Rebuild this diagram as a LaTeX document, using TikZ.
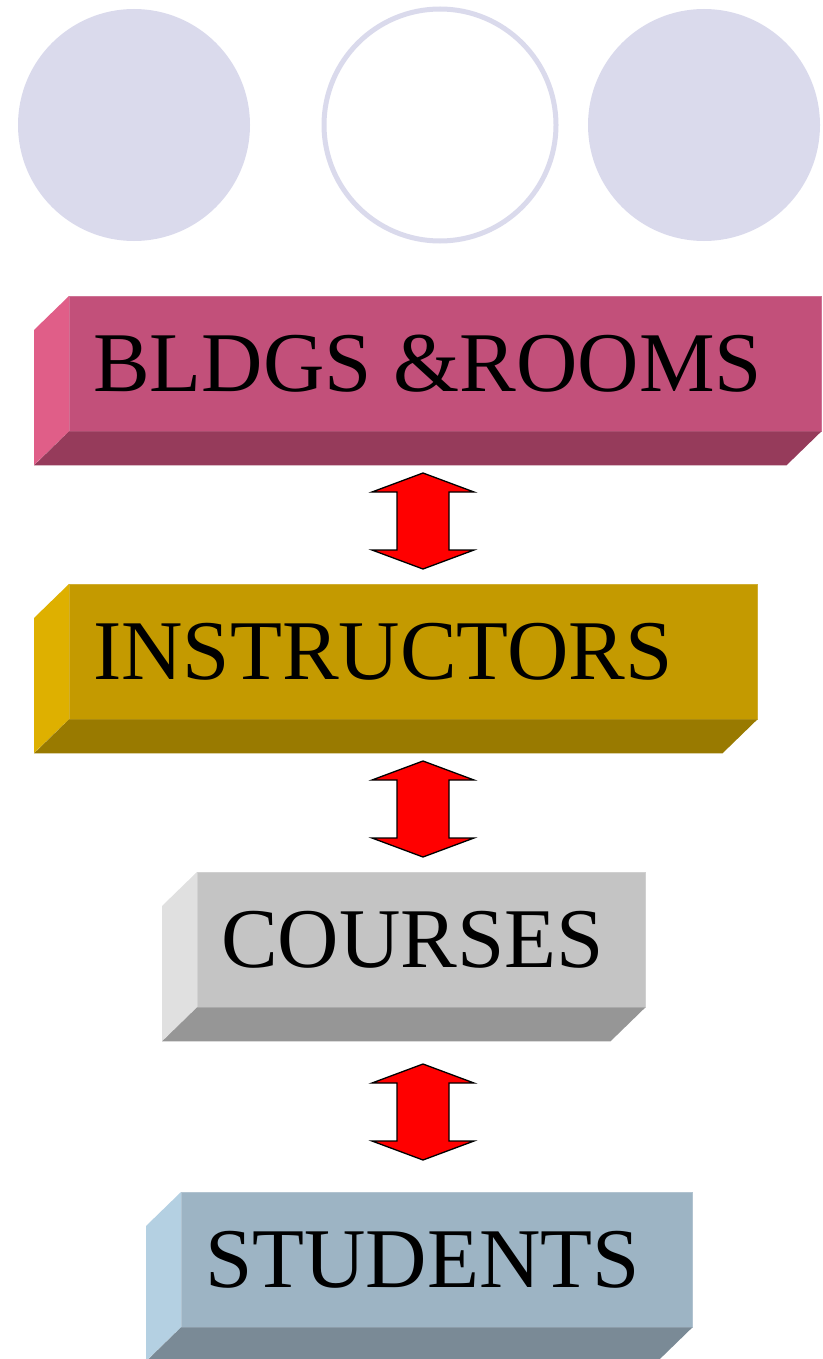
\documentclass[tikz,border=0pt]{standalone}
\usepackage{fontspec}
\setmainfont{Liberation Serif}
\usetikzlibrary{calc}

\definecolor{lav}{HTML}{DADAEC}
\definecolor{roseF}{HTML}{C2507A}
\definecolor{roseS}{HTML}{E05E88}
\definecolor{roseB}{HTML}{963B5B}
\definecolor{goldF}{HTML}{C49A00}
\definecolor{goldS}{HTML}{DEB000}
\definecolor{goldB}{HTML}{997A00}
\definecolor{greyF}{HTML}{C4C4C4}
\definecolor{greyS}{HTML}{E0E0E0}
\definecolor{greyB}{HTML}{969696}
\definecolor{blueF}{HTML}{9DB4C4}
\definecolor{blueS}{HTML}{B4D0E2}
\definecolor{blueB}{HTML}{7A8A96}

% bevel faces of a box: node, side colour, bottom colour
\newcommand{\bevel}[3]{
    \fill[#2] (#1.north west) -- ++(-35,-34) -- ++(0,-135) -- (#1.south west) -- cycle;
    \fill[#3] (#1.south west) -- ++(-35,-34) -- ($(#1.south east)+(-35,-34)$) -- (#1.south east) -- cycle;
}

\begin{document}
\begin{tikzpicture}[x=1pt,y=1pt,
    dot/.style={circle,minimum size=232pt,inner sep=0pt},
    box/.style={rectangle,anchor=north west,minimum height=135pt,inner xsep=24pt,inner ysep=0pt,align=left,font=\fontsize{85}{90}\selectfont},
    fat/.style={fill=red,draw=black,line width=1.3pt,line join=miter}]
    \useasboundingbox (0,0) rectangle (822,-1359);

    \node[dot,fill=lav] (c1) at (134,-125) {};
    \node[dot,draw=lav,line width=5pt,fill=white] (c2) at (440,-125) {};
    \node[dot,fill=lav] (c3) at (704,-125) {};

    \node[box,fill=roseF,draw=roseF!80!white,text width=704pt] (b1) at (69,-296) {BLDGS\hspace{22pt}\&ROOMS};
    \bevel{b1}{roseS}{roseB}
    \node[box,fill=goldF,draw=goldF!80!white,text width=640pt] (b2) at (69,-584) {INSTRUCTORS};
    \bevel{b2}{goldS}{goldB}
    \node[box,fill=greyF,draw=greyF!80!white,text width=400pt] (b3) at (197,-872) {COURSES};
    \bevel{b3}{greyS}{greyB}
    \node[box,fill=blueF,draw=blueF!80!white,text width=463pt] (b4) at (181,-1192) {STUDENTS};
    \bevel{b4}{blueS}{blueB}

    \coordinate (a1) at (423,-521);
    \coordinate (a2) at (423,-809);
    \coordinate (a3) at (423,-1112);

    \foreach \a in {a1,a2,a3}
        \draw[fat] ($(\a)+(0,48)$) -- ++(51,-19) -- ++(-25,0) -- ++(0,-58) -- ++(25,0)
            -- ($(\a)+(0,-48)$) -- ++(-51,19) -- ++(25,0) -- ++(0,58) -- ++(-25,0) -- cycle;
\end{tikzpicture}
\end{document}
